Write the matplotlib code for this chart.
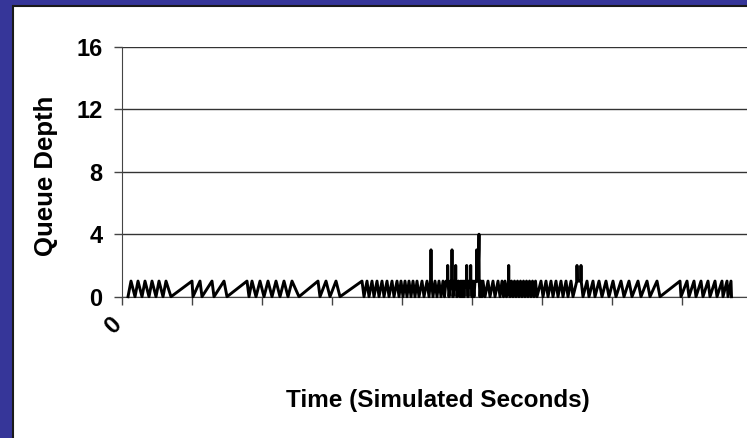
import matplotlib.pyplot as plt
from matplotlib.patches import Rectangle

# Queue depth trace (time in simulated seconds, depth in packets)
time = [6, 9, 13, 16, 20, 23, 27, 30, 34, 37, 41, 44, 49, 70, 71,
        78, 80, 90, 92, 102, 105, 125, 127,
        130, 134, 138, 142, 146, 150, 154, 158, 162, 166, 170, 177, 196, 198,
        204, 208, 214, 218, 240, 242,
        245, 247, 250, 252, 255, 257, 260, 262, 265, 267, 270, 272, 275, 277,
        279, 281, 283, 285, 287, 289, 291, 293, 295, 297, 300, 302, 305, 307,
        308.5, 309, 309.5, 311, 313, 315, 317, 319,
        321, 322.5, 324, 325.5, 325.7, 326, 327, 328.5, 329.8, 330, 330.2, 331,
        332.5, 333.5, 333.7, 333.9, 335, 336.5, 338, 339, 340, 341, 342, 343,
        344.5, 344.7, 344.9, 346, 347, 348.5, 348.7, 348.9, 350, 351, 352, 353,
        354.5, 354.7, 354.9, 356, 356.8, 357, 357.2, 358, 359, 360, 361, 363,
        366, 368, 371, 373, 376, 378, 380, 381.5, 383, 384.5, 386.5, 386.7,
        386.9, 388, 389.5, 391, 392.5, 394, 395.5, 397, 398.5, 400, 401.5, 403,
        404.5, 406, 407.5, 409, 410.5, 412, 413.5, 415,
        419, 421, 424, 426, 429, 431, 434, 436, 439, 441, 444, 446, 449, 451,
        454.8, 455, 455.3, 457, 458.8, 459, 459.2, 461,
        465, 467, 471, 473, 477, 480, 484, 487, 491, 494, 499, 502, 507, 510,
        516, 519, 525, 528, 535, 538, 558, 559,
        565, 567, 572, 574, 579, 581, 586, 588, 593, 595, 600, 601, 605, 606,
        609, 609.5]
depth = [0, 1, 0, 1, 0, 1, 0, 1, 0, 1, 0, 1, 0, 1, 0,
         1, 0, 1, 0, 1, 0, 1, 0,
         1, 0, 1, 0, 1, 0, 1, 0, 1, 0, 1, 0, 1, 0,
         1, 0, 1, 0, 1, 0,
         1, 0, 1, 0, 1, 0, 1, 0, 1, 0, 1, 0, 1, 0,
         1, 0, 1, 0, 1, 0, 1, 0, 1, 0, 1, 0, 1, 0,
         1, 3, 1, 0, 1, 0, 1, 0,
         1, 0, 1, 1, 2, 1, 0, 1, 1, 3, 1, 0,
         1, 1, 2, 1, 0, 1, 0, 1, 0, 1, 0, 1,
         1, 2, 1, 0, 1, 1, 2, 1, 0, 1, 0, 1,
         1, 3, 1, 1, 3, 4, 1, 0, 1, 0, 1, 0,
         1, 0, 1, 0, 1, 0, 1, 0, 1, 0, 1, 2,
         1, 0, 1, 0, 1, 0, 1, 0, 1, 0, 1, 0,
         1, 0, 1, 0, 1, 0, 1, 0,
         1, 0, 1, 0, 1, 0, 1, 0, 1, 0, 1, 0, 1, 0,
         1, 2, 1, 1, 1, 2, 1, 0,
         1, 0, 1, 0, 1, 0, 1, 0, 1, 0, 1, 0, 1, 0,
         1, 0, 1, 0, 1, 0, 1, 0,
         1, 0, 1, 0, 1, 0, 1, 0, 1, 0, 1, 0, 1, 0,
         1, 0]

y_ticks = [0, 4, 8, 12, 16]
x_ticks = [0, 70, 140, 210, 280, 350, 420, 490, 560, 630]

plt.rcParams['font.family'] = ['Liberation Sans', 'DejaVu Sans']
plt.rcParams['font.weight'] = 'bold'

W, H = 747, 438
fig = plt.figure(figsize=(W / 100, H / 100), dpi=100, facecolor='#363699')
# white slide panel with dark edge, kept behind the axes
fig.patches.append(Rectangle((13 / W, -0.2), 1.2, 1.2 - 6 / H, transform=fig.transFigure,
                             facecolor='white', edgecolor='#1a1a1a', lw=1.5, zorder=-5))

ax = fig.add_axes([122 / W, 1 - 296.7 / H, 638 / W, 250 / H])
ax.set_facecolor('white')
ax.plot(time, depth, color='black', lw=2.1, zorder=3, clip_on=False)

ax.set_xlim(0, 638)
ax.set_ylim(0, 16)
ax.set_yticks(y_ticks)
ax.set_yticklabels([str(v) for v in y_ticks], fontsize=17, fontweight='bold')
ax.set_xticks(x_ticks)
ax.yaxis.grid(True, color='#333333', lw=1)
ax.set_axisbelow(True)
for s in ['top', 'right']:
    ax.spines[s].set_visible(False)
ax.spines['left'].set_color('#444444')
ax.spines['bottom'].set_color('#444444')
ax.tick_params(axis='y', length=6, width=1, color='#444444', pad=8)
ax.tick_params(axis='x', length=6, width=1, color='#444444', labelbottom=False)

fig.text(113 / W, 1 - 326 / H, '0', rotation=45, ha='center', va='center',
         fontsize=17, fontweight='bold')
fig.text(438 / W, 1 - 401 / H, 'Time (Simulated Seconds)', ha='center', va='center',
         fontsize=17.5, fontweight='bold')
fig.text(46 / W, 1 - 176 / H, 'Queue Depth', rotation=90, ha='center', va='center',
         fontsize=18.5, fontweight='bold')

fig.savefig('out.png', dpi=100, facecolor=fig.get_facecolor())
